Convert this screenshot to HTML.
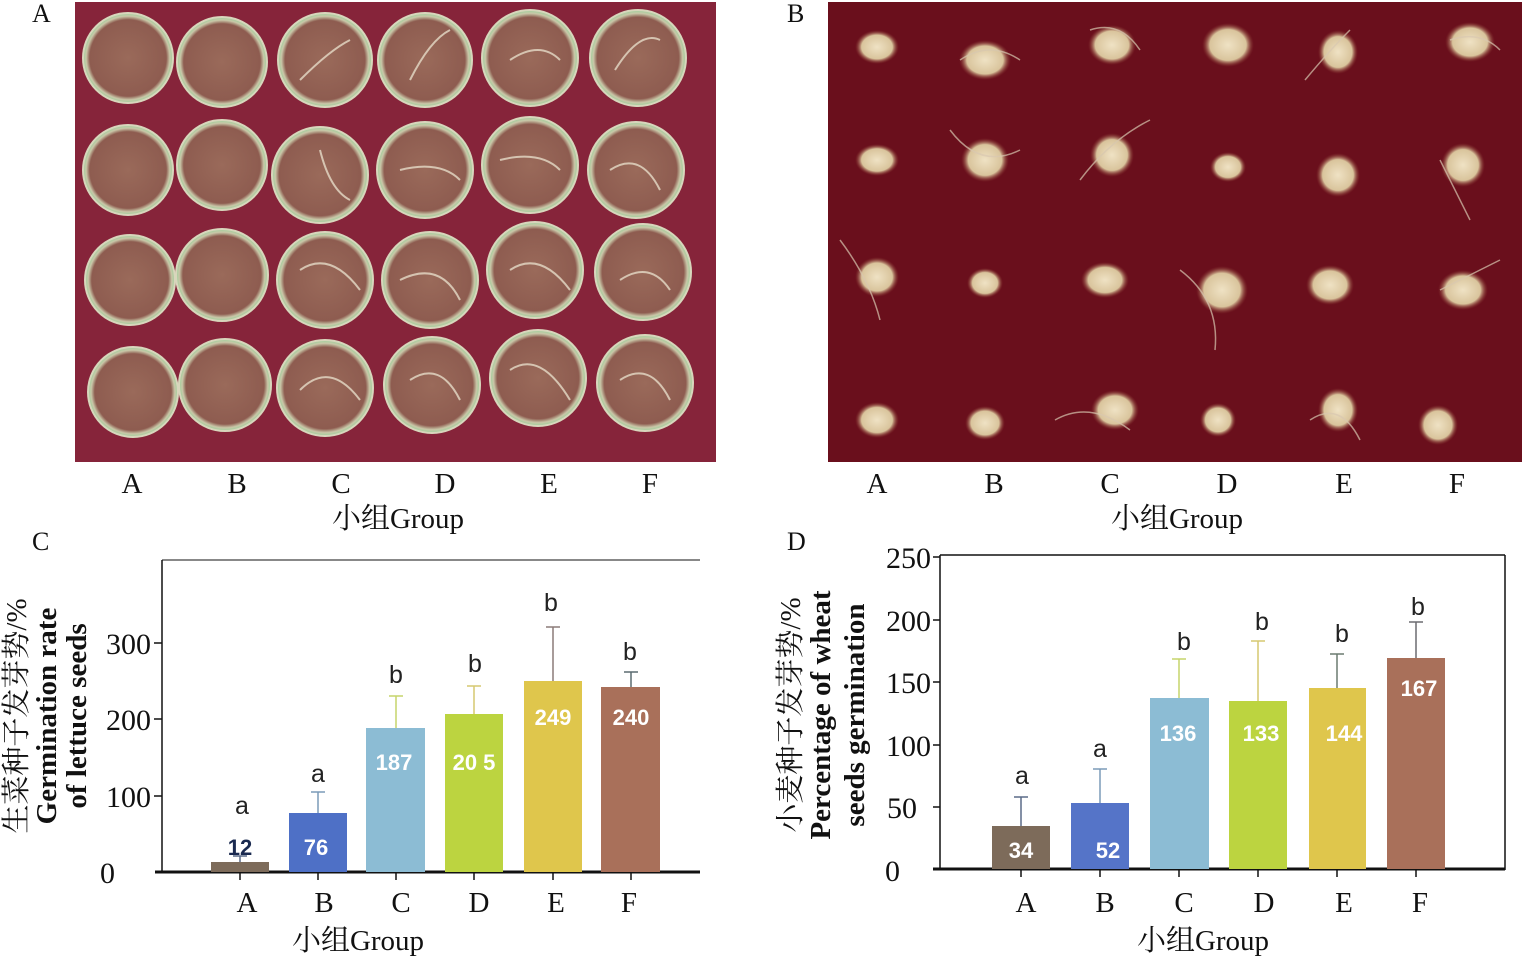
<!DOCTYPE html>
<html><head><meta charset="utf-8"><style>
html,body{margin:0;padding:0;background:#fff}
svg{display:block}
.s{font-family:"Liberation Serif","Noto Serif CJK SC",serif;fill:#111}
.v{font-family:"Liberation Sans",sans-serif;font-weight:bold;fill:#fff;font-size:22px}
.l{font-family:"Liberation Sans",sans-serif;fill:#222;font-size:25px}
</style></head><body>
<svg width="1524" height="958" viewBox="0 0 1524 958" xmlns="http://www.w3.org/2000/svg">
<defs>
<radialGradient id="dish" cx="50%" cy="50%" r="50%">
<stop offset="0" stop-color="#9a6a5a"/><stop offset="0.85" stop-color="#8e5c50"/><stop offset="0.93" stop-color="#c9c7a8"/><stop offset="1" stop-color="#9ad09a"/>
</radialGradient>
<radialGradient id="seed" cx="50%" cy="50%" r="50%">
<stop offset="0" stop-color="#efe2c4"/><stop offset="0.7" stop-color="#d9c49c"/><stop offset="1" stop-color="#8a3a30" stop-opacity="0"/>
</radialGradient>
</defs>
<rect x="75" y="2" width="641" height="460" fill="#86243a"/>
<g fill="url(#dish)" stroke="#d8d6bc" stroke-width="2">
<circle cx="128" cy="58" r="45"/><circle cx="222" cy="62" r="45"/><circle cx="325" cy="60" r="47"/><circle cx="425" cy="60" r="47"/><circle cx="530" cy="58" r="48"/><circle cx="638" cy="58" r="48"/>
<circle cx="128" cy="170" r="45"/><circle cx="222" cy="165" r="45"/><circle cx="320" cy="175" r="48"/><circle cx="425" cy="170" r="48"/><circle cx="530" cy="165" r="48"/><circle cx="636" cy="170" r="48"/>
<circle cx="130" cy="280" r="45"/><circle cx="222" cy="275" r="46"/><circle cx="325" cy="280" r="48"/><circle cx="430" cy="280" r="48"/><circle cx="535" cy="270" r="48"/><circle cx="643" cy="272" r="48"/>
<circle cx="133" cy="392" r="45"/><circle cx="225" cy="385" r="46"/><circle cx="325" cy="388" r="48"/><circle cx="432" cy="385" r="48"/><circle cx="538" cy="378" r="48"/><circle cx="645" cy="383" r="48"/>
</g>
<g stroke="#e6dcc8" stroke-width="2" fill="none" opacity="0.8">
<path d="M300 80 Q330 50 350 40"/><path d="M410 80 Q430 40 450 30"/><path d="M510 60 Q540 40 560 60"/><path d="M615 70 Q640 30 660 40"/>
<path d="M320 150 Q330 190 350 200"/><path d="M400 170 Q440 160 460 180"/><path d="M500 160 Q540 150 560 170"/><path d="M610 170 Q640 150 660 190"/>
<path d="M300 270 Q330 250 360 290"/><path d="M400 280 Q440 260 460 300"/><path d="M510 270 Q540 250 570 290"/><path d="M620 280 Q650 260 670 290"/>
<path d="M300 390 Q330 360 360 400"/><path d="M410 380 Q440 360 460 400"/><path d="M510 370 Q540 350 570 400"/><path d="M620 380 Q650 360 670 400"/>
</g>
<rect x="828" y="2" width="694" height="460" fill="#6a0f1c"/>
<g fill="url(#seed)">
<ellipse cx="877" cy="47" rx="22" ry="17"/><ellipse cx="985" cy="60" rx="26" ry="20"/><ellipse cx="1112" cy="45" rx="24" ry="20"/><ellipse cx="1228" cy="45" rx="26" ry="22"/><ellipse cx="1338" cy="52" rx="20" ry="22"/><ellipse cx="1470" cy="42" rx="25" ry="20"/>
<ellipse cx="877" cy="160" rx="22" ry="16"/><ellipse cx="985" cy="160" rx="24" ry="22"/><ellipse cx="1112" cy="155" rx="22" ry="22"/><ellipse cx="1228" cy="167" rx="18" ry="15"/><ellipse cx="1338" cy="175" rx="22" ry="22"/><ellipse cx="1463" cy="165" rx="22" ry="22"/>
<ellipse cx="877" cy="277" rx="22" ry="20"/><ellipse cx="985" cy="283" rx="18" ry="15"/><ellipse cx="1105" cy="280" rx="24" ry="18"/><ellipse cx="1222" cy="290" rx="26" ry="24"/><ellipse cx="1330" cy="285" rx="24" ry="20"/><ellipse cx="1463" cy="290" rx="25" ry="20"/>
<ellipse cx="877" cy="420" rx="22" ry="18"/><ellipse cx="985" cy="423" rx="20" ry="17"/><ellipse cx="1115" cy="410" rx="24" ry="20"/><ellipse cx="1218" cy="420" rx="18" ry="17"/><ellipse cx="1338" cy="410" rx="20" ry="22"/><ellipse cx="1438" cy="425" rx="20" ry="20"/>
</g>
<g stroke="#d8c8b0" stroke-width="1.5" fill="none" opacity="0.7">
<path d="M960 60 Q990 40 1020 60"/><path d="M1090 30 Q1120 20 1140 50"/><path d="M1305 80 Q1330 50 1350 30"/><path d="M1450 40 Q1480 30 1500 50"/>
<path d="M950 130 Q980 170 1020 150"/><path d="M1080 180 Q1110 140 1150 120"/><path d="M1440 160 Q1460 200 1470 220"/>
<path d="M840 240 Q870 280 880 320"/><path d="M1180 270 Q1220 300 1215 350"/><path d="M1440 290 Q1480 270 1500 260"/>
<path d="M1055 420 Q1090 400 1130 430"/><path d="M1310 420 Q1340 400 1360 440"/>
</g>
<g class="s" font-size="26">
<text x="32" y="22">A</text><text x="787" y="22">B</text><text x="32" y="550">C</text><text x="787" y="550">D</text>
</g>
<g class="s" font-size="29" text-anchor="middle">
<text x="132" y="493">A</text><text x="237" y="493">B</text><text x="341" y="493">C</text><text x="445" y="493">D</text><text x="549" y="493">E</text><text x="650" y="493">F</text>
<text x="398" y="528">小组Group</text>
<text x="877" y="493">A</text><text x="994" y="493">B</text><text x="1110" y="493">C</text><text x="1227" y="493">D</text><text x="1344" y="493">E</text><text x="1457" y="493">F</text>
<text x="1177" y="528">小组Group</text>
</g>

<g>
<line x1="162" y1="560" x2="700" y2="560" stroke="#111" stroke-width="1"/>
<line x1="162" y1="560" x2="162" y2="873" stroke="#111" stroke-width="1.5"/>
<line x1="155" y1="872" x2="700" y2="872" stroke="#111" stroke-width="3"/>
<g stroke="#111" stroke-width="1.5">
<line x1="154" y1="796" x2="162" y2="796"/><line x1="154" y1="719" x2="162" y2="719"/><line x1="154" y1="643" x2="162" y2="643"/>
<line x1="240" y1="872" x2="240" y2="880"/><line x1="318" y1="872" x2="318" y2="880"/><line x1="396" y1="872" x2="396" y2="880"/><line x1="474" y1="872" x2="474" y2="880"/><line x1="553" y1="872" x2="553" y2="880"/><line x1="631" y1="872" x2="631" y2="880"/>
</g>
<g class="s" font-size="30" text-anchor="end">
<text x="115" y="883">0</text><text x="151" y="807">100</text><text x="151" y="730">200</text><text x="151" y="654">300</text>
</g>
<g stroke-width="1.5">
<line x1="240" y1="863" x2="240" y2="856" stroke="#5a6a88"/><line x1="233" y1="856" x2="247" y2="856" stroke="#5a6a88"/>
<line x1="318" y1="814" x2="318" y2="792" stroke="#7a9ab8"/><line x1="311" y1="792" x2="325" y2="792" stroke="#7a9ab8"/>
<line x1="396" y1="729" x2="396" y2="696" stroke="#c6d46a"/><line x1="389" y1="696" x2="403" y2="696" stroke="#c6d46a"/>
<line x1="474" y1="715" x2="474" y2="686" stroke="#d6c870"/><line x1="467" y1="686" x2="481" y2="686" stroke="#d6c870"/>
<line x1="553" y1="682" x2="553" y2="627" stroke="#8a7a78"/><line x1="546" y1="627" x2="560" y2="627" stroke="#8a7a78"/>
<line x1="631" y1="688" x2="631" y2="672" stroke="#5a6a70"/><line x1="624" y1="672" x2="638" y2="672" stroke="#5a6a70"/>
</g>
<rect x="211" y="862" width="58" height="10" fill="#7d6b5a"/>
<rect x="289" y="813" width="58" height="59" fill="#4e70c6"/>
<rect x="366" y="728" width="59" height="144" fill="#8cbcd4"/>
<rect x="445" y="714" width="58" height="158" fill="#bcd440"/>
<rect x="524" y="681" width="58" height="191" fill="#dfc64c"/>
<rect x="601" y="687" width="59" height="185" fill="#a9705a"/>
<g class="v" text-anchor="middle">
<text x="240" y="855" style="fill:#1a2a50">12</text>
<text x="316" y="855">76</text><text x="394" y="770">187</text><text x="474" y="770">20 5</text><text x="553" y="725">249</text><text x="631" y="725">240</text>
</g>
<g class="l" text-anchor="middle">
<text x="242" y="814">a</text><text x="318" y="782">a</text><text x="396" y="683">b</text><text x="475" y="672">b</text><text x="551" y="611">b</text><text x="630" y="660">b</text>
</g>
<g class="s" font-size="29" text-anchor="middle">
<text x="247" y="912">A</text><text x="324" y="912">B</text><text x="401" y="912">C</text><text x="479" y="912">D</text><text x="556" y="912">E</text><text x="629" y="912">F</text>
<text x="358" y="950">小组Group</text>
</g>
<g class="s" font-size="29" text-anchor="middle">
<text transform="translate(26,716) rotate(-90)">生菜种子发芽势/%</text>
<text transform="translate(56,716) rotate(-90)" font-weight="bold">Germination rate</text>
<text transform="translate(86,716) rotate(-90)" font-weight="bold">of lettuce seeds</text>
</g>
</g>

<g>
<line x1="940" y1="555" x2="1505" y2="555" stroke="#111" stroke-width="1.5"/>
<line x1="1505" y1="555" x2="1505" y2="870" stroke="#111" stroke-width="1.5"/>
<line x1="940" y1="555" x2="940" y2="870" stroke="#111" stroke-width="1.5"/>
<line x1="933" y1="869" x2="1505" y2="869" stroke="#111" stroke-width="3"/>
<g stroke="#111" stroke-width="1.5">
<line x1="933" y1="557" x2="940" y2="557"/><line x1="933" y1="620" x2="940" y2="620"/><line x1="933" y1="682" x2="940" y2="682"/><line x1="933" y1="745" x2="940" y2="745"/><line x1="933" y1="807" x2="940" y2="807"/>
<line x1="1021" y1="869" x2="1021" y2="877"/><line x1="1100" y1="869" x2="1100" y2="877"/><line x1="1179" y1="869" x2="1179" y2="877"/><line x1="1258" y1="869" x2="1258" y2="877"/><line x1="1337" y1="869" x2="1337" y2="877"/><line x1="1416" y1="869" x2="1416" y2="877"/>
</g>
<g class="s" font-size="30" text-anchor="end">
<text x="900" y="881">0</text><text x="917" y="818">50</text><text x="931" y="756">100</text><text x="931" y="693">150</text><text x="931" y="631">200</text><text x="931" y="568">250</text>
</g>
<g stroke-width="1.5">
<line x1="1021" y1="826" x2="1021" y2="797" stroke="#5a6a88"/><line x1="1014" y1="797" x2="1028" y2="797" stroke="#5a6a88"/>
<line x1="1100" y1="803" x2="1100" y2="769" stroke="#7a9ab8"/><line x1="1093" y1="769" x2="1107" y2="769" stroke="#7a9ab8"/>
<line x1="1179" y1="698" x2="1179" y2="659" stroke="#c6d46a"/><line x1="1172" y1="659" x2="1186" y2="659" stroke="#c6d46a"/>
<line x1="1258" y1="701" x2="1258" y2="641" stroke="#d6c870"/><line x1="1251" y1="641" x2="1265" y2="641" stroke="#d6c870"/>
<line x1="1337" y1="688" x2="1337" y2="654" stroke="#6a7a70"/><line x1="1330" y1="654" x2="1344" y2="654" stroke="#6a7a70"/>
<line x1="1416" y1="659" x2="1416" y2="622" stroke="#6a6a70"/><line x1="1409" y1="622" x2="1423" y2="622" stroke="#6a6a70"/>
</g>
<rect x="992" y="826" width="58" height="43" fill="#7d6b5a"/>
<rect x="1071" y="803" width="58" height="66" fill="#5574c8"/>
<rect x="1150" y="698" width="59" height="171" fill="#8cbcd4"/>
<rect x="1229" y="701" width="58" height="168" fill="#bcd440"/>
<rect x="1309" y="688" width="57" height="181" fill="#dfc64c"/>
<rect x="1387" y="658" width="58" height="211" fill="#a9705a"/>
<g class="v" text-anchor="middle">
<text x="1021" y="858">34</text><text x="1108" y="858">52</text><text x="1178" y="741">136</text><text x="1261" y="741">133</text><text x="1344" y="741">144</text><text x="1419" y="696">167</text>
</g>
<g class="l" text-anchor="middle">
<text x="1022" y="784">a</text><text x="1100" y="757">a</text><text x="1184" y="650">b</text><text x="1262" y="630">b</text><text x="1342" y="642">b</text><text x="1418" y="615">b</text>
</g>
<g class="s" font-size="29" text-anchor="middle">
<text x="1026" y="912">A</text><text x="1105" y="912">B</text><text x="1184" y="912">C</text><text x="1264" y="912">D</text><text x="1344" y="912">E</text><text x="1420" y="912">F</text>
<text x="1203" y="950">小组Group</text>
</g>
<g class="s" font-size="29" text-anchor="middle">
<text transform="translate(800,715) rotate(-90)">小麦种子发芽势/%</text>
<text transform="translate(830,715) rotate(-90)" font-weight="bold">Percentage of wheat</text>
<text transform="translate(864,715) rotate(-90)" font-weight="bold">seeds germination</text>
</g>
</g>
</svg>
</body></html>
